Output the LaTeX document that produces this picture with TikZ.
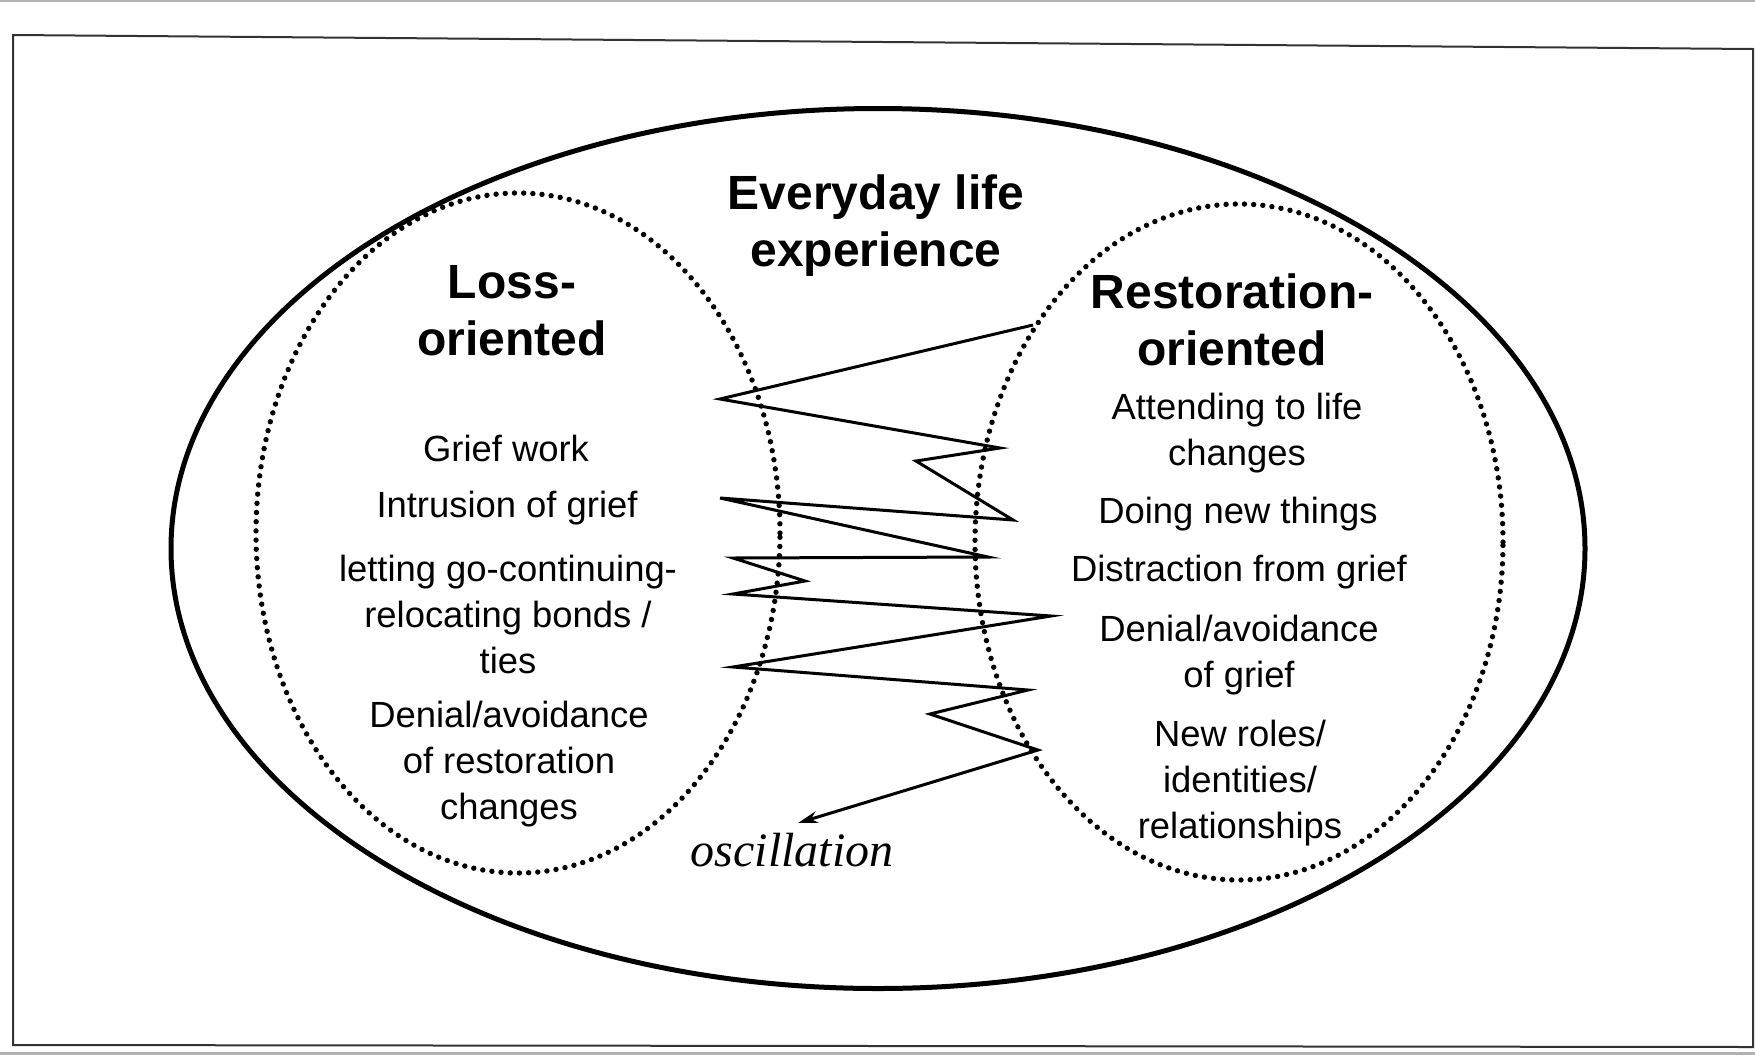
\documentclass[tikz,border=0pt]{standalone}
\usepackage{fontspec}
\setmainfont{Liberation Sans}
\newfontfamily\oscfont{Liberation Serif}
\usetikzlibrary{arrows.meta}
\begin{document}
\begin{tikzpicture}[x=0.5pt,y=-0.5pt,
  frame/.style={draw=black!80, line width=1pt},
  outer/.style={draw=black, line width=2.5pt},
  dotring/.style={draw=black, line width=2.7pt, line cap=round, dash pattern=on 0pt off 4.6pt},
  zig/.style={draw=black, line width=1.5pt, -{Stealth[length=10pt,width=6pt]}},
  heading/.style={font=\fontsize{24}{28.5}\selectfont\bfseries, align=center, inner sep=0pt},
  item/.style={font=\fontsize{18.2}{23}\selectfont, align=center, inner sep=0pt},
  osc/.style={font=\oscfont\itshape\fontsize{24}{28}\selectfont, inner sep=0pt}]
\useasboundingbox (0,0) rectangle (1755,1055);
\fill[black!30] (0,0) rectangle (1755,2);
\fill[black!30] (0,1052) rectangle (1755,1055);
\draw[frame] (13,35) -- (1753,49) -- (1753,1047) -- (13,1045) -- cycle;
\draw[outer] (878,548.5) ellipse [x radius=353.5pt, y radius=220pt];
\draw[dotring] (518,533) ellipse [x radius=131pt, y radius=170pt];
\draw[dotring] (1239,542) ellipse [x radius=132pt, y radius=169pt];

\coordinate (z1) at (1033,325);
\coordinate (z2) at (720,399);
\coordinate (z3) at (1000,448);
\coordinate (z4) at (916,461);
\coordinate (z5) at (1013,520);
\coordinate (z6) at (720,498);
\coordinate (z7) at (988,557);
\coordinate (z8) at (733,558);
\coordinate (z9) at (805,581);
\coordinate (z10) at (733,594);
\coordinate (z11) at (1051,616);
\coordinate (z12) at (733,667);
\coordinate (z13) at (1028,690);
\coordinate (z14) at (930,714);
\coordinate (z15) at (1038,750);
\coordinate (z16) at (798,823);
\draw[zig] (z1) -- (z2) -- (z3) -- (z4) -- (z5) -- (z6) -- (z7) -- (z8) -- (z9) -- (z10) -- (z11) -- (z12) -- (z13) -- (z14) -- (z15) -- (z16);

\node[heading] (everyday) at (876,226) {Everyday life\\experience};
\node[heading] (loss) at (512,311) {Loss-\\oriented};
\node[heading] (resto) at (1232,320) {Restoration-\\oriented};
\node[item] (griefwork) at (506,448) {Grief work};
\node[item] (intrusion) at (507,508) {Intrusion of grief};
\node[item] (letting) at (508,614) {letting go-continuing-\\relocating bonds /\\ties};
\node[item] (denialL) at (509,764) {Denial/avoidance\\of restoration\\changes};
\node[item] (attending) at (1237,433) {Attending to life\\changes};
\node[item] (doing) at (1238,514) {Doing new things};
\node[item] (distraction) at (1239,572) {Distraction from grief};
\node[item] (denialR) at (1239,655) {Denial/avoidance\\of grief};
\node[item] (newroles) at (1240,783) {New roles/\\identities/\\relationships};
\node[osc] (osc) at (792,850) {oscillation};
\end{tikzpicture}
\end{document}
